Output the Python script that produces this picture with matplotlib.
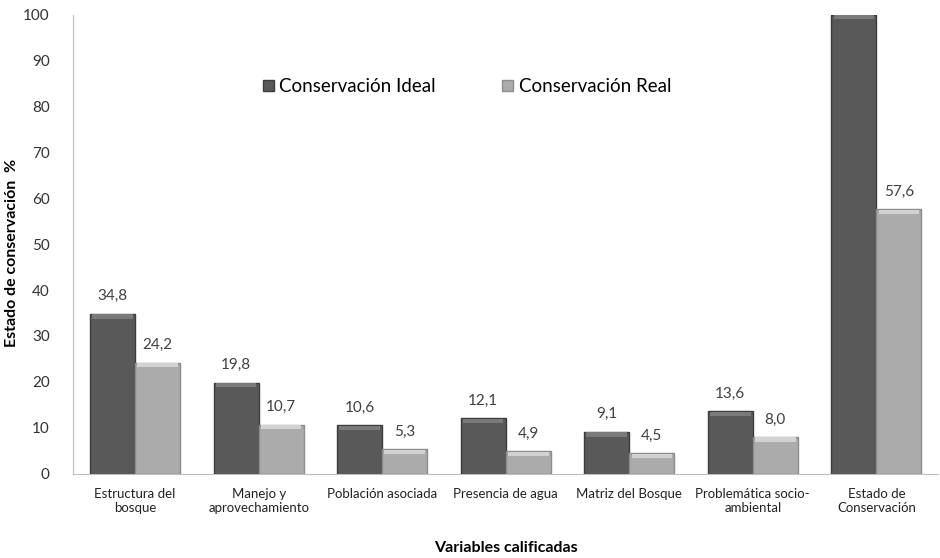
import numpy as np
import matplotlib.pyplot as plt

plt.rcParams['font.family'] = ['Lato', 'DejaVu Sans']

categories = ['Estructura del\nbosque', 'Manejo y\naprovechamiento', 'Población asociada',
              'Presencia de agua', 'Matriz del Bosque', 'Problemática socio-\nambiental',
              'Estado de\nConservación']
ideal = [34.8, 19.8, 10.6, 12.1, 9.1, 13.6, 100.0]
real = [24.2, 10.7, 5.3, 4.9, 4.5, 8.0, 57.6]
show_ideal_label = [True, True, True, True, True, True, False]

fig = plt.figure(figsize=(9.4, 5.58), dpi=100)
ax = fig.add_axes([0.078, 0.151, 0.92, 0.823])

x = np.arange(len(categories))
w = 0.365

def draw(xs, vals, face, edge, top):
    ax.bar(xs, vals, w, color=face, edgecolor=edge, linewidth=1.0, zorder=2)
    # soft bevel highlight on top of each bar
    ax.bar(xs, [0.9] * len(vals), w * 0.9, bottom=[v - 1.0 for v in vals],
           color=top, linewidth=0, zorder=3)

draw(x - w / 2, ideal, '#595959', '#3c3c3c', '#7a7a7a')
draw(x + w / 2, real, '#ababab', '#8c8c8c', '#d2d2d2')

for xi, v, s in zip(x - w / 2, ideal, show_ideal_label):
    if s:
        ax.text(xi, v + 2.3, f'{v:.1f}'.replace('.', ','), ha='center', va='bottom',
                fontsize=11, color='#404040')
for xi, v in zip(x + w / 2, real):
    ax.text(xi, v + 2.3, f'{v:.1f}'.replace('.', ','), ha='center', va='bottom',
            fontsize=11, color='#404040')

ax.set_ylim(0, 100)
ax.set_xlim(-0.5, len(categories) - 0.5)
ax.set_yticks(range(0, 101, 10))
ax.set_xticks(x)
ax.set_xticklabels(categories, fontsize=9.5, color='#222222', linespacing=1.2)
ax.tick_params(axis='y', labelsize=11, labelcolor='#333333', length=0, pad=17)
ax.tick_params(axis='x', length=0, pad=10)
for s in ['top', 'right']:
    ax.spines[s].set_visible(False)
ax.spines['left'].set_color('#bfbfbf')
ax.spines['bottom'].set_color('#bfbfbf')

ax.set_ylabel('Estado de conservación  %', fontsize=11.5, fontweight='bold')
ax.yaxis.set_label_coords(-0.063, 0.48)
ax.set_xlabel('Variables calificadas', fontsize=11.5, fontweight='bold', labelpad=20)

h1 = plt.Rectangle((0, 0), 1, 1, facecolor='#595959', edgecolor='#3c3c3c')
h2 = plt.Rectangle((0, 0), 1, 1, facecolor='#ababab', edgecolor='#8c8c8c')
ax.legend([h1, h2], ['Conservación Ideal', 'Conservación Real'], ncol=2, frameon=False,
          loc='center', bbox_to_anchor=(0.455, 0.843), fontsize=13.5, handlelength=0.6,
          handleheight=0.6, handletextpad=0.3, columnspacing=3.5)

fig.savefig('out.png', dpi=100)
